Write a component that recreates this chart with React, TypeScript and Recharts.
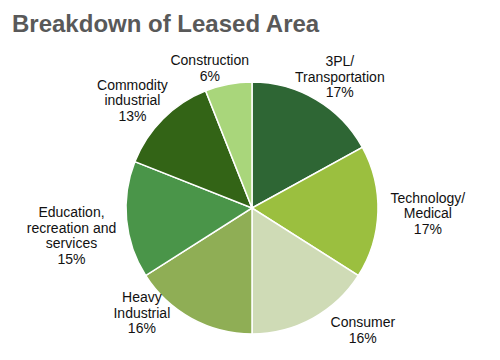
import { PieChart, Pie, Cell } from "recharts";

const categories = [
  "3PL/\nTransportation",
  "Technology/\nMedical",
  "Consumer",
  "Heavy\nIndustrial",
  "Education,\nrecreation and\nservices",
  "Commodity\nindustrial",
  "Construction",
];
const shares = [17, 17, 16, 16, 15, 13, 6];
const colors = ["#2e6634", "#9bbf3f", "#cfdbb6", "#8fae55", "#4a9549", "#336416", "#a9d67b"];

// hand nudges for the label boxes, like the original's manual placement
const labelNudge = [
  [-6, 6],
  [2, 0],
  [32, -11],
  [-28, -35],
  [3, 12],
  [1, 5],
  [-9, 9],
];

const data = categories.map((name, i) => ({ name, value: shares[i] }));

const RADIAN = Math.PI / 180;
const FONT = "'Liberation Sans', Arial, sans-serif";
const LINE_H = 15.5;

function renderLabel(props: any) {
  const { cx, cy, midAngle, outerRadius, index } = props;
  const lines = [...categories[index].split("\n"), `${shares[index]}%`];
  const cos = Math.cos(-midAngle * RADIAN);
  const sin = Math.sin(-midAngle * RADIAN);
  const r = outerRadius + 10;
  const w = Math.max(...lines.map((l) => l.length)) * 6.9;
  const h = lines.length * LINE_H;
  const x = cx + r * cos + (w / 2) * cos + labelNudge[index][0];
  const y = cy + r * sin + (h / 2) * sin + labelNudge[index][1];
  const top = y - h / 2 + LINE_H / 2;
  return (
    <text
      key={`lbl-${index}`}
      x={x}
      y={top}
      textAnchor="middle"
      dominantBaseline="central"
      fontFamily={FONT}
      fontSize={14}
      fill="#111"
    >
      {lines.map((l, i) => (
        <tspan key={i} x={x} y={top + i * LINE_H}>
          {l}
        </tspan>
      ))}
    </text>
  );
}

export default function App() {
  return (
    <div style={{ position: "absolute", left: 0, top: 0, width: 500, height: 360, background: "#fff" }}>
      <div
        style={{
          position: "absolute",
          left: 12,
          top: 12,
          fontFamily: FONT,
          fontWeight: "bold",
          fontSize: 24,
          lineHeight: "24px",
          color: "#595959",
          whiteSpace: "nowrap",
        }}
      >
        Breakdown of Leased Area
      </div>
      <PieChart
        width={500}
        height={360}
        margin={{ top: 0, right: 0, bottom: 0, left: 0 }}
        style={{ position: "absolute", left: 0, top: 0 }}
      >
        <Pie
          data={data}
          dataKey="value"
          nameKey="name"
          cx={252}
          cy={208}
          outerRadius={126}
          startAngle={90}
          endAngle={-270}
          stroke="#fff"
          strokeWidth={1.5}
          label={renderLabel}
          labelLine={false}
          isAnimationActive={false}
        >
          {data.map((d, i) => (
            <Cell key={d.name} fill={colors[i]} />
          ))}
        </Pie>
      </PieChart>
    </div>
  );
}
